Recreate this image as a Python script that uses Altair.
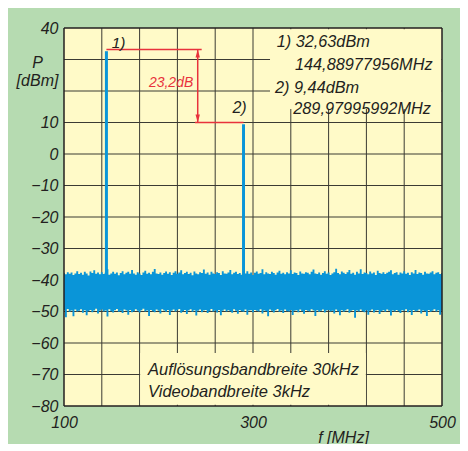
import altair as alt
import pandas as pd

# ---------------- data ----------------
FREQ = list(range(100, 501, 2))  # MHz sampling grid of the noise trace

NOISE_TOP = [
    -37.8, -38.2, -37.5, -38.0, -37.6, -38.4, -37.9, -37.2, -38.1, -37.7,
    -38.3, -37.4, -37.9, -38.6, -37.3, -37.8, -36.9, -38.0, -37.6, -38.2,
    -37.5, -38.1, -37.7, -36.6, -38.3, -37.9, -37.4, -38.0, -37.6, -38.5,
    -37.8, -37.2, -38.2, -37.7, -37.4, -38.0, -36.8, -37.9, -38.3, -37.5,
    -37.9, -38.4, -37.6, -37.1, -38.0, -37.7, -38.2, -37.4, -36.5, -37.9,
    -38.1, -37.6, -38.3, -37.8, -37.3, -38.0, -37.5, -38.4, -37.7, -37.2,
    -38.0, -37.6, -36.9, -38.2, -37.8, -37.4, -38.1, -37.7, -38.5, -37.3,
    -37.9, -38.2, -37.5, -37.8, -36.7, -38.0, -37.6, -38.3, -37.4, -37.9,
    -38.1, -37.5, -37.8, -38.4, -37.2, -37.9, -38.0, -37.6, -36.8, -38.2,
    -37.7, -37.4, -38.1, -37.8, -38.3, -37.5, -37.9, -37.2, -38.0, -37.6,
    -38.4, -37.7, -37.3, -38.0, -37.8, -36.6, -38.2, -37.5, -37.9, -38.1,
    -37.4, -37.8, -38.3, -37.6, -37.1, -38.0, -37.7, -38.2, -37.5, -37.9,
    -36.9, -38.1, -37.6, -37.8, -38.4, -37.3, -37.9, -38.0, -37.5, -37.7,
    -38.2, -37.4, -36.7, -37.9, -38.1, -37.6, -38.3, -37.8, -37.2, -38.0,
    -37.6, -38.4, -37.9, -37.5, -36.4, -37.8, -38.2, -37.3, -37.7, -38.1,
    -37.5, -36.8, -38.0, -37.7, -38.3, -37.4, -37.9, -36.6, -38.1, -37.6,
    -37.8, -38.2, -37.3, -37.9, -37.6, -38.4, -37.1, -37.8, -38.0, -37.5,
    -38.1, -37.7, -37.4, -36.9, -38.2, -37.8, -37.5, -38.3, -37.6, -37.9,
    -37.2, -38.0, -37.7, -38.4, -37.5, -37.9, -36.8, -38.1, -37.6, -37.8,
    -38.3, -37.4, -37.9, -38.0, -37.6, -37.2, -38.2, -37.7, -37.5, -38.1,
    -37.8,
]

NOISE_BOTTOM = [
    -49.6, -51.8, -49.2, -50.1, -49.7, -51.5, -49.4, -50.0, -49.8, -49.3,
    -50.4, -49.6, -51.2, -49.9, -49.5, -50.2, -49.7, -49.1, -50.6, -49.8,
    -49.4, -50.0, -49.7, -51.6, -49.3, -49.9, -50.3, -49.6, -49.2, -50.1,
    -49.8, -50.5, -49.4, -49.7, -51.0, -49.5, -50.2, -49.9, -49.3, -49.8,
    -50.3, -49.6, -49.1, -50.0, -49.7, -51.4, -49.5, -49.9, -50.2, -49.4,
    -49.8, -50.6, -49.3, -49.7, -50.1, -49.5, -51.1, -49.8, -49.4, -50.0,
    -49.6, -49.2, -50.4, -49.9, -49.5, -50.8, -49.7, -49.3, -50.1, -49.6,
    -51.3, -49.8, -49.4, -50.2, -49.7, -49.5, -50.5, -49.9, -49.2, -50.0,
    -49.7, -50.3, -49.5, -51.2, -49.8, -49.4, -50.0, -49.6, -49.9, -50.4,
    -49.3, -49.8, -50.7, -49.5, -49.9, -50.1, -49.4, -51.0, -49.7, -49.6,
    -50.2, -49.5, -49.8, -50.0, -49.3, -50.6, -49.7, -49.9, -51.5, -49.4,
    -49.8, -50.3, -49.6, -49.2, -50.1, -49.7, -50.5, -49.4, -49.9, -50.0,
    -49.5, -51.1, -49.8, -49.6, -50.2, -49.4, -49.9, -50.7, -49.5, -49.8,
    -50.0, -49.3, -49.7, -51.4, -49.6, -50.1, -49.8, -49.4, -50.3, -49.7,
    -49.5, -50.0, -49.8, -50.6, -49.4, -49.9, -51.2, -49.6, -50.1, -49.7,
    -49.3, -50.4, -49.8, -49.5, -52.0, -49.7, -50.0, -49.4, -49.9, -50.2,
    -49.6, -51.0, -49.8, -49.4, -50.3, -49.7, -49.5, -50.8, -49.9, -49.6,
    -50.1, -49.4, -49.8, -51.3, -49.7, -50.0, -49.5, -49.9, -50.5, -49.6,
    -49.8, -49.3, -50.2, -49.7, -51.1, -49.5, -50.0, -49.8, -49.4, -50.6,
    -49.7, -49.9, -51.4, -49.5, -50.1, -49.8, -49.3, -50.0, -49.6, -51.0,
    -49.8,
]

PEAK_FREQ = [144.88977956, 289.97995992]
PEAK_LEVEL = [32.63, 9.44]
PEAK_BASE = [-40, -40]

GRID_X = [140, 180, 220, 260, 300, 340, 380, 420, 460]
GRID_Y = [-70, -60, -50, -40, -30, -20, -10, 0, 10, 20, 30]
X_TICKS = [100, 300, 500]
Y_TICKS = [-80, -70, -60, -50, -40, -30, -20, -10, 0, 10, 40]
FRAME_X = [100, 500]
FRAME_Y = [-80, 40]

MARKER_LINES = ["1) 32,63dBm", "144,88977956MHz", "2) 9,44dBm", "289,97995992MHz"]
MARKER_X = [325, 344.4, 323.3, 342.6]
MARKER_Y = [34.0, 26.6, 19.4, 12.6]

PEAK_TAGS = ["1)", "2)"]
DELTA_TEXT = ["23,2dB"]
INFO_LINES = ["Auflösungsbandbreite 30kHz", "Videobandbreite 3kHz"]

# ---------------- styling ----------------
FONT = "Liberation Sans"
INK = "#231f20"
BLUE = "#0a95d8"
RED = "#e8323c"
YELLOW = "#fffac8"
GREEN = "#b6dbb1"
GRID = "#3b3a33"

xs = alt.Scale(domain=[100, 500], nice=False, zero=False)
ys = alt.Scale(domain=[-80, 40], nice=False, zero=False)

X_AXIS = alt.Axis(values=X_TICKS, grid=False, ticks=False, domain=False,
                  labelFlush=False, labelPadding=8, labelFont=FONT,
                  labelFontStyle="italic", labelFontSize=16, labelColor=INK,
                  title="f [MHz]", titleFont=FONT, titleFontStyle="italic",
                  titleFontWeight="normal", titleFontSize=16, titleColor=INK,
                  titleX=279, titleY=36, titleAlign="center",
                  titleBaseline="alphabetic")
Y_AXIS = alt.Axis(values=Y_TICKS, grid=False, ticks=False, domain=False,
                  labelPadding=6, labelFont=FONT, labelFontStyle="italic",
                  labelFontSize=16, labelColor=INK,
                  labelExpr="datum.value < 0 ? '\u2212' + abs(datum.value) : '' + datum.value",
                  title=["P", "[dBm]"], titleAngle=0, titleFont=FONT,
                  titleFontStyle="italic", titleFontWeight="normal",
                  titleFontSize=16, titleColor=INK, titleX=-27, titleY=34,
                  titleAlign="center", titleBaseline="middle",
                  titleLineHeight=18)

def X(field):
    return alt.X(field, scale=xs, axis=X_AXIS)

def Y(field):
    return alt.Y(field, scale=ys, axis=Y_AXIS)

noise_df = pd.DataFrame({"f": FREQ, "top": NOISE_TOP, "bottom": NOISE_BOTTOM})
peak_df = pd.DataFrame({"f": PEAK_FREQ, "p": PEAK_LEVEL, "base": PEAK_BASE})

grid_v = alt.Chart(pd.DataFrame({"f": GRID_X})).mark_rule(color=GRID, strokeWidth=1).encode(
    x=X("f:Q"))
grid_h = alt.Chart(pd.DataFrame({"p": GRID_Y})).mark_rule(color=GRID, strokeWidth=1).encode(
    y=Y("p:Q"))

# text boxes that hide the grid behind the annotations
boxes_df = pd.DataFrame({
    "x1": [318, 180.6], "x2": [499.5, 419.4],
    "y1": [14.3, -79.6], "y2": [39.6, -63.2],
})
boxes = alt.Chart(boxes_df).mark_rect(color=YELLOW).encode(
    x=X("x1:Q"), x2="x2:Q", y=Y("y1:Q"), y2="y2:Q")

noise = alt.Chart(noise_df).mark_area(interpolate="step", color=BLUE, opacity=1).encode(
    x=X("f:Q"), y=Y("top:Q"), y2="bottom:Q")

peaks = alt.Chart(peak_df).mark_rule(color=BLUE, strokeWidth=3).encode(
    x=X("f:Q"), y=Y("base:Q"), y2="p:Q")

red_df = pd.DataFrame({
    "x1": [PEAK_FREQ[0], 238.6, 241.5],
    "x2": [245.7, PEAK_FREQ[1], 241.5],
    "y1": [33.2, 10.0, 33.2],
    "y2": [33.2, 10.0, 10.0],
})
red_lines = alt.Chart(red_df).mark_rule(color=RED, strokeWidth=1.5).encode(
    x=X("x1:Q"), x2="x2:Q", y=Y("y1:Q"), y2="y2:Q")

arrow_up = alt.Chart(pd.DataFrame({"f": [241.5], "p": [33.2]})).mark_point(
    shape="M0,-1L0.55,1L-0.55,1Z", filled=True, color=RED, size=64, opacity=1, yOffset=4
).encode(x=X("f:Q"), y=Y("p:Q"))
arrow_dn = alt.Chart(pd.DataFrame({"f": [241.5], "p": [10.0]})).mark_point(
    shape="M0,1L0.55,-1L-0.55,-1Z", filled=True, color=RED, size=64, opacity=1, yOffset=-4
).encode(x=X("f:Q"), y=Y("p:Q"))

def text_layer(df, **kw):
    return alt.Chart(df).mark_text(font=FONT, fontStyle="italic", baseline="alphabetic", **kw).encode(
        x=X("f:Q"), y=Y("p:Q"), text="t:N")

marker_txt = text_layer(pd.DataFrame({"t": MARKER_LINES, "f": MARKER_X, "p": MARKER_Y}),
                        align="left", fontSize=16.3, color=INK)
tag1 = text_layer(pd.DataFrame({"t": [PEAK_TAGS[0]], "f": [150.5], "p": [33.7]}),
                  align="left", fontSize=15.5, color=INK)
tag2 = text_layer(pd.DataFrame({"t": [PEAK_TAGS[1]], "f": [293.3], "p": [12.9]}),
                  align="right", fontSize=16, color=INK)
delta_txt = text_layer(pd.DataFrame({"t": DELTA_TEXT, "f": [236.8], "p": [21.2]}),
                       align="right", fontSize=14, color=RED)
info_txt = text_layer(pd.DataFrame({"t": INFO_LINES, "f": [188.9, 188.9], "p": [-70.2, -77.0]}),
                      align="left", fontSize=16.5, color=INK)

frame_v = alt.Chart(pd.DataFrame({"f": FRAME_X})).mark_rule(color=INK, strokeWidth=1.5).encode(
    x=X("f:Q"))
frame_h = alt.Chart(pd.DataFrame({"p": FRAME_Y})).mark_rule(color=INK, strokeWidth=1.5).encode(
    y=Y("p:Q"))

chart = alt.layer(
    grid_v, grid_h, boxes, noise, peaks, red_lines, arrow_up, arrow_dn,
    marker_txt, tag1, tag2, delta_txt, info_txt, frame_v, frame_h,
).properties(
    width=378, height=378,
    autosize=alt.AutoSizeParams(type="none"),
    padding={"left": 56, "top": 20, "right": 18, "bottom": 38},
    background=GREEN,
).configure_view(fill=YELLOW, stroke=None)

chart.save("out.html", embed_options={"renderer": "svg", "actions": False})
